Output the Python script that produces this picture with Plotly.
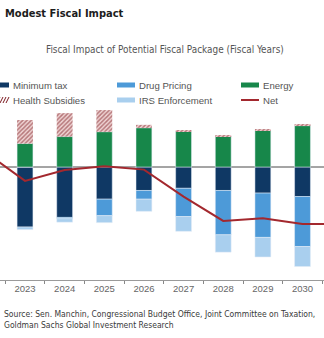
import plotly.graph_objects as go

# Fiscal years, $bn (positive = cost, negative = revenue / savings)
years = ["2022", "2023", "2024", "2025", "2026", "2027", "2028", "2029", "2030", "2031"]
minimum_tax = [-8, -69, -58, -37, -27, -24.5, -27, -30, -34, -36]
drug_pricing = [0, 0, -1.5, -19, -10, -32.5, -51, -51, -57.5, -60]
irs_enforcement = [0, -3, -4, -8, -14, -17, -20, -22.5, -23, -24]
energy = [10, 27, 35, 40.5, 45, 41, 35.5, 42, 47.5, 50]
health_subsidies = [15, 27, 27, 25, 3.5, 1, 1, 1, 1, 1]
net = [17, -16, -3.5, 1, -3, -34, -62, -59, -65.5, -65.5]

C_MIN = "#0f3864"
C_DRUG = "#4d9ad8"
C_IRS = "#a9cfee"
C_ENERGY = "#17874a"
C_HEALTH = "#7c1a20"
C_NET = "#a3282e"

GRAY = "#555555"
FONT = "Liberation Sans, Arial, sans-serif"
NARROW = "DejaVu Sans Condensed, Roboto Condensed, Roboto, sans-serif"

fig = go.Figure()

bar_w = 0.4
fig.add_bar(x=years, y=minimum_tax, name="Minimum tax", marker_color=C_MIN, width=bar_w)
fig.add_bar(x=years, y=drug_pricing, name="Drug Pricing", marker_color=C_DRUG, width=bar_w)
fig.add_bar(x=years, y=irs_enforcement, name="IRS Enforcement", marker_color=C_IRS, width=bar_w)
fig.add_bar(x=years, y=energy, name="Energy", marker_color=C_ENERGY, width=bar_w)
fig.add_bar(
    x=years, y=health_subsidies, name="Health Subsidies", width=bar_w,
    marker=dict(color="white", line=dict(width=0),
                pattern=dict(shape="/", fgcolor=C_HEALTH, bgcolor="#f0d4d4",
                             size=3, solidity=0.5)),
)
fig.add_scatter(x=years, y=net, name="Net", mode="lines",
                line=dict(color=C_NET, width=2))

# Plot-area geometry (pixels) used to place the surrounding text in paper units
H_TOP, H_BOT = 54, 280
def py(pix):
    return (H_BOT - pix) / (H_BOT - H_TOP)

def px(pix):
    return pix / 324

annotations = [
    dict(text="<b>Modest Fiscal Impact</b>", x=px(3), y=py(13), xanchor="left",
         yanchor="middle", font=dict(family=NARROW, size=11, color="#1c1c1c")),
    dict(text="Fiscal Impact of Potential Fiscal Package (Fiscal Years)",
         x=px(165), y=py(50), xanchor="center", yanchor="middle",
         font=dict(family=NARROW, size=9.9, color=GRAY)),
    dict(text="Source: Sen. Manchin, Congressional Budget Office, Joint Committee on Taxation,"
              "<br>Goldman Sachs Global Investment Research",
         x=px(2), y=py(307), xanchor="left", yanchor="top", align="left",
         font=dict(family=NARROW, size=8.5, color="#3a3a3a")),
]

# Custom legend: three columns, two rows
legend_rows = [
    [("Minimum tax", C_MIN, "bar"), ("Drug Pricing", C_DRUG, "bar"), ("Energy", C_ENERGY, "bar")],
    [("Health Subsidies", C_HEALTH, "hatch"), ("IRS Enforcement", C_IRS, "bar"), ("Net", C_NET, "line")],
]
col_text_x = [11, 137, 261]
row_y = [85, 100]
shapes = []
for r, row in enumerate(legend_rows):
    for c, (label, color, kind) in enumerate(row):
        tx = col_text_x[c]
        yy = row_y[r]
        annotations.append(dict(text=label, x=px(tx), y=py(yy), xanchor="left",
                                yanchor="middle", showarrow=False,
                                font=dict(family=FONT, size=9.6, color=GRAY)))
        x0, x1 = tx - 20, tx - 2
        if kind == "bar":
            shapes.append(dict(type="rect", xref="paper", yref="paper",
                               x0=px(x0), x1=px(x1), y0=py(yy + 2.5), y1=py(yy - 2.5),
                               fillcolor=color, line=dict(width=0)))
        elif kind == "line":
            shapes.append(dict(type="line", xref="paper", yref="paper",
                               x0=px(x0), x1=px(x1), y0=py(yy), y1=py(yy),
                               line=dict(color=color, width=2)))
        else:
            for k in range(6):
                sx = x0 + 3 * k
                shapes.append(dict(type="line", xref="paper", yref="paper",
                                   x0=px(sx), x1=px(sx + 3), y0=py(yy + 3), y1=py(yy - 3),
                                   line=dict(color=color, width=1)))

for a in annotations:
    a.setdefault("showarrow", False)
    a["xref"] = "paper"
    a["yref"] = "paper"

# Zero line
shapes.append(dict(type="line", xref="paper", yref="y", x0=0, x1=1, y0=0, y1=0,
                   line=dict(color="#4a4a4a", width=1), layer="below"))

fig.update_layout(
    width=324, height=338,
    margin=dict(l=0, r=0, t=H_TOP, b=338 - H_BOT, autoexpand=False),
    paper_bgcolor="white", plot_bgcolor="white",
    barmode="relative", bargap=0.6,
    showlegend=False,
    annotations=annotations,
    shapes=shapes,
    xaxis=dict(type="category", range=[0.369, 8.542], tickson="boundaries",
               ticks="outside", ticklen=3, tickcolor="#888888",
               showline=True, linecolor="#9a9a9a", linewidth=1,
               showgrid=False, zeroline=False,
               tickfont=dict(family=FONT, size=9.5, color="#666666")),
    yaxis=dict(range=[-130, 130], visible=False, showgrid=False, zeroline=False),
)

fig.write_html("out.html")
